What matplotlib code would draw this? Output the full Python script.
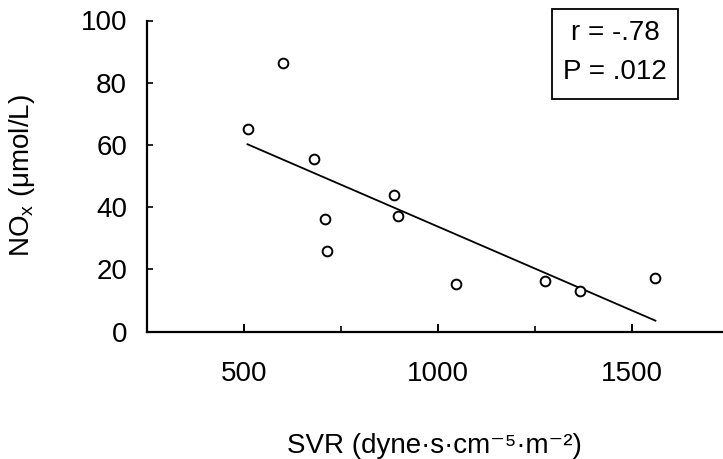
import matplotlib
matplotlib.use("Agg")
import matplotlib.pyplot as plt
import numpy as np
from matplotlib.patches import Rectangle

plt.rcParams['font.family'] = ['Liberation Sans', 'DejaVu Sans']
plt.rcParams['mathtext.fontset'] = 'custom'
plt.rcParams['mathtext.rm'] = 'Liberation Sans'

# Data
svr = [510, 602, 681, 710, 715, 888, 898, 1047, 1277, 1366, 1560]
nox = [65.1, 86.2, 55.6, 36.1, 25.8, 43.8, 37.1, 15.2, 16.1, 13.1, 17.3]
x_ticks = [500, 1000, 1500]
x_minor = [750, 1250]
y_ticks = [0, 20, 40, 60, 80, 100]
stats_lines = ["r = -.78", "P = .012"]

W, H = 723, 459
fig = plt.figure(figsize=(W / 100, H / 100), dpi=100)
left, right, top, bottom = 146.5, 723, 20.5, 331.5
ax = fig.add_axes([left / W, 1 - bottom / H, (right - left) / W, (bottom - top) / H])

FS = 20
ax.plot(svr, nox, linestyle='none', marker='o', ms=7.0, mfc='white',
        mec='black', mew=1.4, zorder=3)

coef = np.polyfit(svr, nox, 1)
xf = np.array([min(svr), max(svr)])
ax.plot(xf, np.polyval(coef, xf), color='black', lw=1.3, zorder=2)

ax.set_xlim(250, 1734)
ax.set_ylim(0, 100)
ax.set_xticks(x_ticks)
ax.set_xticks(x_minor, minor=True)
ax.set_yticks(y_ticks)
ax.tick_params(axis='x', which='major', direction='in', length=6, width=1.4,
               pad=21, labelsize=FS)
ax.tick_params(axis='x', which='minor', direction='in', length=4, width=1.2)
ax.tick_params(axis='y', which='major', direction='in', length=4, width=1.2,
               pad=14, labelsize=FS)
for s in ['top', 'right']:
    ax.spines[s].set_visible(False)
for s in ['left', 'bottom']:
    ax.spines[s].set_linewidth(1.6)
    ax.spines[s].set_clip_on(False)

ax.set_xlabel('SVR (dyne·s·cm⁻⁵·m⁻²)', fontsize=FS)
ax.xaxis.set_label_coords(0.5, -0.325)
ax.set_ylabel(r'NO$_\mathregular{x}$ (μmol/L)', fontsize=FS)
ax.yaxis.set_label_coords(-0.19, 0.5)

# Stats box
def fx(px):
    return px / W

def fy(py):
    return 1 - py / H

bx0, bx1, by0, by1 = 552, 678, 9, 99
fig.patches.append(Rectangle((fx(bx0), fy(by1)), fx(bx1) - fx(bx0), fy(by0) - fy(by1),
                             transform=fig.transFigure, fill=False,
                             edgecolor='black', linewidth=1.3))
fig.text(fx(615), fy(33), stats_lines[0], ha='center', va='center', fontsize=FS)
fig.text(fx(615), fy(72), stats_lines[1], ha='center', va='center', fontsize=FS)

fig.savefig('out.png', dpi=100)
